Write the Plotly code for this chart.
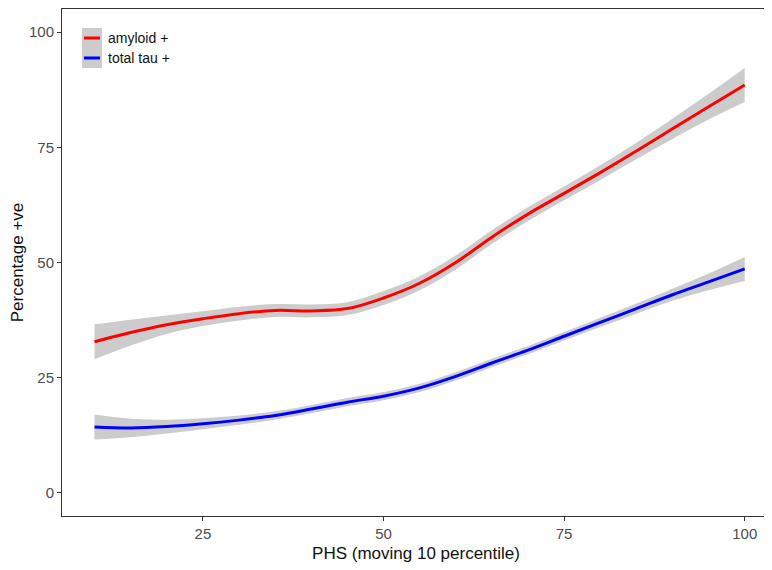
import plotly.graph_objects as go

phs = [10, 15, 20, 25, 30, 35, 40, 45, 50, 55, 60, 65, 70, 75, 80, 85, 90, 95, 100]
amyloid = [32.8, 34.8, 36.5, 37.8, 38.9, 39.6, 39.5, 40.0, 42.3, 45.5, 50.0, 55.5, 60.5, 65.0, 69.5, 74.2, 79.0, 83.8, 88.5]
amyloid_se = [3.8, 2.8, 2.0, 1.6, 1.5, 1.4, 1.4, 1.4, 1.5, 1.5, 1.5, 1.5, 1.5, 1.5, 1.6, 1.8, 2.2, 2.8, 3.7]
tau = [14.3, 14.1, 14.4, 15.0, 15.8, 16.8, 18.2, 19.7, 21.0, 22.8, 25.3, 28.2, 31.0, 34.0, 37.0, 40.0, 43.0, 45.8, 48.6]
tau_se = [2.7, 2.0, 1.5, 1.2, 1.0, 0.9, 0.9, 0.9, 0.9, 0.9, 0.9, 0.9, 0.9, 0.9, 1.0, 1.1, 1.3, 1.8, 2.6]

series_names = ["amyloid +", "total tau +"]
series_colors = ["#ff0000", "#0000ff"]

x_ticks = [25, 50, 75, 100]
y_ticks = [0, 25, 50, 75, 100]

FONT = "Liberation Sans, Arial"
RIBBON = "#cccccc"
fig = go.Figure()

def add_series(name, y, se, color):
    up = [a + b for a, b in zip(y, se)]
    lo = [a - b for a, b in zip(y, se)]
    fig.add_trace(go.Scatter(x=phs, y=up, mode="lines", line=dict(width=0, shape="spline"),
                             showlegend=False, hoverinfo="skip"))
    fig.add_trace(go.Scatter(x=phs, y=lo, mode="lines", line=dict(width=0, shape="spline"),
                             fill="tonexty", fillcolor=RIBBON, showlegend=False, hoverinfo="skip"))
    fig.add_trace(go.Scatter(x=phs, y=y, mode="lines", name=name, showlegend=False,
                             line=dict(color=color, width=3, shape="spline")))

add_series(series_names[0], amyloid, amyloid_se, series_colors[0])
add_series(series_names[1], tau, tau_se, series_colors[1])

axis_common = dict(showgrid=False, zeroline=False, showline=True, linecolor="#333333", linewidth=1,
                   mirror=True, ticks="outside", ticklen=4, tickcolor="#333333", automargin=False,
                   tickfont=dict(family=FONT, size=15, color="#4d4d4d"))

fig.update_xaxes(range=[5.5, 103.5], tickvals=x_ticks, **axis_common,
                 title=dict(text="PHS (moving 10 percentile)", standoff=6,
                            font=dict(family=FONT, size=17, color="#111111")))
fig.update_yaxes(range=[-5, 105], tickvals=y_ticks, **axis_common,
                 title=dict(text="Percentage +ve", standoff=6,
                            font=dict(family=FONT, size=17, color="#111111")))

# manual ggplot-style legend (keys with grey background)
PX_L, PX_R, PX_T, PX_B = 62, 770, 9, 516
def px2paper(px, py):
    return (px - PX_L) / (PX_R - PX_L), (PX_B - py) / (PX_B - PX_T)

shapes = []
annotations = []
for i, (name, color) in enumerate(zip(series_names, series_colors)):
    top = 28 + 20 * i
    x0, y0 = px2paper(82, top)
    x1, y1 = px2paper(102, top + 20)
    shapes.append(dict(type="rect", xref="paper", yref="paper", x0=x0, x1=x1, y0=y1, y1=y0,
                       fillcolor=RIBBON, line=dict(width=0), layer="above"))
    lx0, ly = px2paper(84, top + 10)
    lx1, _ = px2paper(100, top + 10)
    shapes.append(dict(type="line", xref="paper", yref="paper", x0=lx0, x1=lx1, y0=ly, y1=ly,
                       line=dict(color=color, width=3), layer="above"))
    tx, _ = px2paper(106, top + 10)
    annotations.append(dict(xref="paper", yref="paper", x=tx, y=ly, text=name, showarrow=False,
                            xanchor="left", yanchor="middle",
                            font=dict(family=FONT, size=14, color="#111111")))

fig.update_layout(
    width=772, height=570,
    margin=dict(l=54, r=10, t=1, b=62),
    paper_bgcolor="white", plot_bgcolor="white",
    showlegend=False,
    shapes=shapes, annotations=annotations,
)

fig.write_html("out.html")
